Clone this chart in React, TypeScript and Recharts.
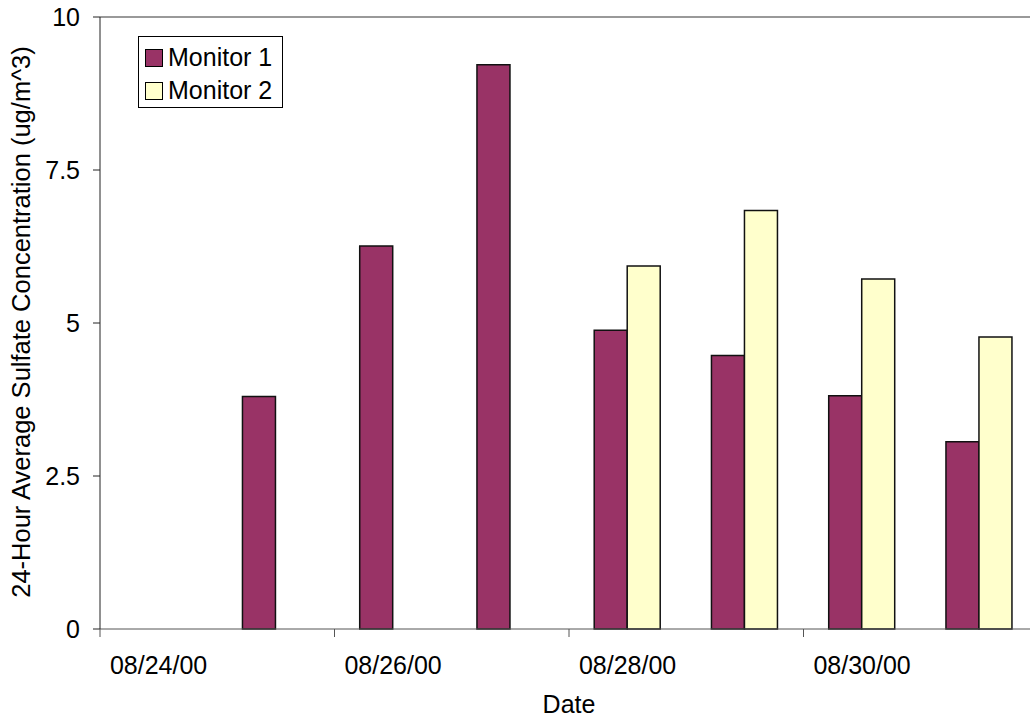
import { BarChart, Bar, XAxis, YAxis, Legend, ReferenceLine } from 'recharts';

const dates = ['08/24/00', '08/25/00', '08/26/00', '08/27/00', '08/28/00', '08/29/00', '08/30/00', '08/31/00'];
const monitor1 = [null, 3.8, 6.26, 9.22, 4.88, 4.47, 3.81, 3.06];
const monitor2 = [null, null, null, null, 5.93, 6.84, 5.72, 4.77];
const yTicks = [0, 2.5, 5, 7.5, 10];

const CHART_W = 1050;
const CHART_H = 719;
const MARGIN = { top: 17, right: 12, bottom: 0, left: 0 };
const Y_AXIS_W = 100;
const X_AXIS_H = 90;
const BAND = (CHART_W - MARGIN.left - MARGIN.right - Y_AXIS_W) / dates.length;
const AXIS_Y = CHART_H - MARGIN.bottom - X_AXIS_H;
const FONT = "'Liberation Sans', Arial, Helvetica, sans-serif";

const chartData = dates.map((date, i) => ({
  date,
  m1: monitor1[i],
  m2: monitor2[i],
}));

// ticks sit on the category boundaries, labels in the middle of the category
const DateTick = (props: any) => {
  const { x, payload } = props;
  const lx = x - BAND / 2;
  return (
    <g>
      <line x1={lx} y1={AXIS_Y} x2={lx} y2={AXIS_Y + 8} stroke="#555" />
      <text x={x} y={AXIS_Y + 45} textAnchor="middle" fontSize={25} fill="#000" fontFamily={FONT}>
        {payload.value}
      </text>
    </g>
  );
};

const renderLegend = (props: any) => {
  const { payload } = props;
  return (
    <div
      style={{
        border: '1px solid #000',
        background: '#fff',
        width: 145,
        height: 72,
        boxSizing: 'border-box',
        paddingTop: 4,
        paddingLeft: 6,
        fontFamily: FONT,
        fontSize: 25,
        color: '#000',
      }}
    >
      {payload.map((entry: any) => (
        <div key={entry.value} style={{ display: 'flex', alignItems: 'center', height: 33 }}>
          <span
            style={{
              display: 'inline-block',
              width: 18,
              height: 18,
              boxSizing: 'border-box',
              border: '1.5px solid #000',
              background: entry.color,
              marginRight: 5,
            }}
          />
          <span style={{ lineHeight: 1 }}>{entry.value}</span>
        </div>
      ))}
    </div>
  );
};

export default function App() {
  return (
    <div style={{ position: 'fixed', left: 0, top: 0, width: 1030, height: 719, overflow: 'hidden', background: '#fff' }}>
      <BarChart
        width={CHART_W}
        height={CHART_H}
        data={chartData}
        margin={MARGIN}
        barCategoryGap="21.5%"
        barGap={0}
        style={{ fontFamily: FONT }}
      >
        <ReferenceLine y={10} stroke="#999" strokeWidth={2} />
        <XAxis
          dataKey="date"
          height={X_AXIS_H}
          interval={1}
          tickLine={false}
          tick={DateTick}
          axisLine={{ stroke: '#555' }}
          label={() => (
            <text x={569} y={713} textAnchor="middle" fontSize={25} fill="#000" fontFamily={FONT}>
              Date
            </text>
          )}
        />
        <YAxis
          width={Y_AXIS_W}
          domain={[0, 10]}
          ticks={yTicks}
          tickSize={7}
          tickMargin={13}
          axisLine={{ stroke: '#222' }}
          tickLine={{ stroke: '#222' }}
          tick={{ fontSize: 25, fill: '#000', fontFamily: FONT }}
          label={() => (
            <text
              x={21}
              y={322}
              transform="rotate(-90, 21, 322)"
              textAnchor="middle"
              dominantBaseline="central"
              fontSize={25.5}
              fill="#000"
              fontFamily={FONT}
            >
              24-Hour Average Sulfate Concentration (ug/m^3)
            </text>
          )}
        />
        <Legend
          layout="vertical"
          align="center"
          verticalAlign="middle"
          content={renderLegend}
          wrapperStyle={{ left: 138, top: 36, width: 145 }}
        />
        <Bar dataKey="m1" name="Monitor 1" fill="#993366" stroke="#111" strokeWidth={1.5} isAnimationActive={false} />
        <Bar dataKey="m2" name="Monitor 2" fill="#FFFFCC" stroke="#111" strokeWidth={1.5} isAnimationActive={false} />
      </BarChart>
    </div>
  );
}
